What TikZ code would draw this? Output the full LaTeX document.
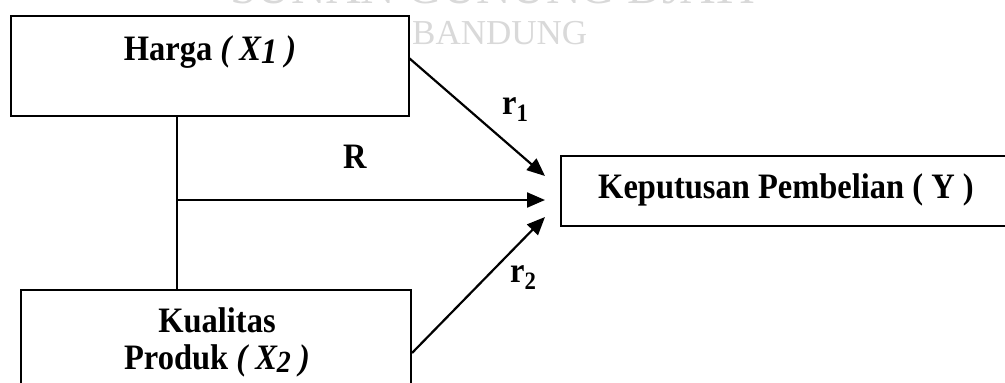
\documentclass[tikz,border=0pt]{standalone}
\usepackage{fontspec}
\setmainfont{Liberation Serif}
\usetikzlibrary{arrows.meta}

% bold labels, slightly tall
\newcommand{\tall}[1]{\scalebox{1}[1.1]{#1}}

\tikzset{
  box/.style={draw, line width=2.2pt, inner sep=0pt},
  lbl/.style={font=\fontsize{32.5}{36}\selectfont\bfseries, inner sep=0pt},
  wm/.style={text=black!15, inner sep=0pt, anchor=base west},
  conn/.style={line width=2.2pt},
  arr/.style={conn, -{Triangle[length=18pt,width=15pt]}}
}

\begin{document}
\begin{tikzpicture}[x=1pt,y=-1pt]
  \useasboundingbox (0,0) rectangle (1005,383);
  \clip (0,0) rectangle (1005,383);
  \fill[white] (0,0) rectangle (1005,383);

  % faint seal lettering behind the diagram
  \node[wm, font=\fontsize{48}{48}\selectfont] (wmtop) at (230,3) {SUNAN GUNUNG DJATI};
  \node[wm, font=\fontsize{35}{35}\selectfont] (wmbot) at (412,44) {BANDUNG};

  % variable boxes
  \node[box, minimum width=398pt, minimum height=100pt] (h) at (210,66) {};
  \node[box, minimum width=390pt, minimum height=140pt] (k) at (216,360) {};
  \node[box, minimum width=470pt, minimum height=70pt] (y) at (796,191) {};

  % box texts
  \node[lbl, anchor=base] (ht) at (210,60)
    {\tall{Harga \textit{( X\raisebox{-3pt}{1} )}}};
  \node[lbl, anchor=base] (kt1) at (217,332) {\tall{Kualitas}};
  \node[lbl, anchor=base] (kt2) at (217,369)
    {\tall{Produk \textit{( X\raisebox{-3pt}{\fontsize{28}{28}\selectfont 2} )}}};
  \node[lbl, anchor=base] (yt) at (786,198) {\tall{Keputusan Pembelian ( Y )}};

  % connection points
  \coordinate (hs) at (409,58);
  \coordinate (ks) at (412,353);
  \coordinate (j) at (177,200);
  \coordinate (t1) at (545,176);
  \coordinate (t2) at (545,200);
  \coordinate (t3) at (545,217);

  % joint link between the two predictors
  \draw[conn] (h.south -| j) -- (k.north -| j);

  % paths toward the dependent variable
  \draw[arr] (hs) -- (t1);
  \draw[arr] (j) -- (t2);
  \draw[arr] (ks) -- (t3);

  % path labels
  \node[lbl, anchor=base west] (r1) at (502,114) {\tall{r\textsubscript{1}}};
  \node[lbl, anchor=base west] (rr) at (343,168) {\tall{R}};
  \node[lbl, anchor=base west] (r2) at (510,282) {\tall{r\textsubscript{2}}};
\end{tikzpicture}
\end{document}
